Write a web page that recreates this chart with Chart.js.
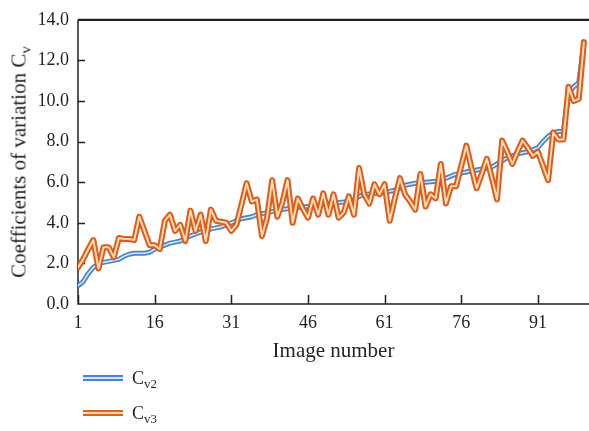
<!DOCTYPE html>
<html>
<head>
<meta charset="utf-8">
<script src="https://cdn.jsdelivr.net/npm/chart.js@4.4.1/dist/chart.umd.min.js"></script>
<style>
html,body{margin:0;padding:0;background:#fff;}
#wrap{position:relative;width:589px;height:431px;overflow:hidden;font-family:"Liberation Serif","Times New Roman",serif;color:#231f20;}
#chart{position:absolute;left:0;top:0;}
#ytitle{position:absolute;left:19px;top:162px;transform:translate(-50%,-50%) rotate(-90deg);white-space:nowrap;font-size:21px;line-height:1;}
.sub{font-size:0.72em;position:relative;top:0.32em;}
.leg{position:absolute;left:83px;height:20px;display:flex;align-items:center;font-size:18px;line-height:1;}
.swatch{width:40px;height:2px;border-top:2px solid;border-bottom:2px solid;margin-right:9px;}
</style>
</head>
<body>
<div id="wrap">
  <canvas id="chart" width="589" height="431"></canvas>
  <div id="ytitle">Coefficients of variation C<span class="sub">v</span></div>
  <div class="leg" style="top:368px;"><div class="swatch" style="border-color:#4a84c2;background:#d3e3f2;"></div><span>C<span class="sub">v2</span></span></div>
  <div class="leg" style="top:403px;"><div class="swatch" style="border-color:#d9651f;background:#f6d8a8;"></div><span>C<span class="sub">v3</span></span></div>
</div>
<script>
const imageNumbers = [
  1,2,3,4,5,6,7,8,9,10,11,12,13,14,15,16,17,18,19,20,
  21,22,23,24,25,26,27,28,29,30,31,32,33,34,35,36,37,38,39,40,
  41,42,43,44,45,46,47,48,49,50,51,52,53,54,55,56,57,58,59,60,
  61,62,63,64,65,66,67,68,69,70,71,72,73,74,75,76,77,78,79,80,
  81,82,83,84,85,86,87,88,89,90,91,92,93,94,95,96,97,98,99,100
];
const cv2 = [
  0.9,1.1,1.5,1.8,2.0,2.05,2.1,2.15,2.2,2.35,
  2.45,2.5,2.5,2.5,2.55,2.7,2.8,2.9,3.0,3.05,
  3.1,3.25,3.35,3.45,3.55,3.6,3.7,3.75,3.8,3.9,
  4.0,4.1,4.2,4.25,4.3,4.4,4.45,4.5,4.55,4.6,
  4.65,4.7,4.72,4.75,4.78,4.8,4.83,4.86,4.9,4.95,
  4.97,5.0,5.02,5.05,5.15,5.3,5.4,5.42,5.44,5.45,
  5.5,5.55,5.6,5.7,5.85,5.9,5.95,5.97,6.0,6.02,
  6.05,6.1,6.2,6.3,6.4,6.45,6.5,6.55,6.6,6.65,
  6.7,6.75,6.9,7.05,7.2,7.3,7.4,7.45,7.5,7.6,
  7.7,8.0,8.25,8.45,8.5,8.5,10.4,10.7,10.9,12.9
];
const cv3 = [
  1.8,2.2,2.7,3.15,1.75,2.8,2.8,2.3,3.25,3.2,
  3.2,3.15,4.3,3.6,2.9,2.9,2.7,4.1,4.4,3.6,
  3.9,3.1,4.6,3.6,4.4,3.1,4.65,4.1,4.05,4.0,
  3.6,3.9,4.9,5.95,5.05,5.15,3.35,4.25,6.1,4.3,
  5.0,6.1,4.0,5.2,4.7,4.25,5.2,4.4,5.45,4.4,
  5.4,4.25,4.5,5.3,4.4,6.7,5.4,4.95,5.9,5.4,
  5.9,4.1,5.2,6.2,5.4,5.05,4.65,6.4,4.8,5.4,
  5.2,6.9,4.95,5.8,5.8,6.8,7.8,6.7,5.7,6.4,
  7.15,6.2,5.15,8.05,7.5,6.9,7.5,8.05,7.7,7.3,
  7.5,6.8,6.1,8.45,8.1,8.1,10.7,10.0,10.1,12.9
];
const xTicks = [1,16,31,46,61,76,91];
const yTicks = [0,2,4,6,8,10,12,14];
const seriesNames = ['Cv2','Cv3'];

const pts = arr => arr.map((v,k) => ({x: imageNumbers[k], y: v}));
const FONT = "'Liberation Serif','Times New Roman',serif";
const INK = '#231f20';

const framePlugin = {
  id: 'frame',
  beforeDatasetsDraw(chart) {
    const {ctx, chartArea: a, scales: {x, y}} = chart;
    ctx.save();
    ctx.strokeStyle = INK;
    ctx.lineWidth = 1.5;
    ctx.beginPath();
    ctx.moveTo(a.left, a.top);
    ctx.lineTo(a.left, a.bottom);
    ctx.lineTo(a.right, a.bottom);
    x.ticks.forEach(t => {
      const px = Math.round(x.getPixelForValue(t.value)) + 0.5;
      ctx.moveTo(px, a.bottom);
      ctx.lineTo(px, a.bottom - 9);
    });
    y.ticks.forEach(t => {
      if (t.value === 0 || t.value === 14) return;
      const py = Math.round(y.getPixelForValue(t.value)) + 0.5;
      ctx.moveTo(a.left, py);
      ctx.lineTo(a.left + 7, py);
    });
    ctx.stroke();
    ctx.lineWidth = 2.2;
    ctx.beginPath();
    ctx.moveTo(a.left, a.top);
    ctx.lineTo(a.right, a.top);
    ctx.stroke();
    ctx.restore();
  }
};

const lineBase = {pointRadius: 0, tension: 0, fill: false, borderJoinStyle: 'round', borderCapStyle: 'round'};

new Chart(document.getElementById('chart'), {
  type: 'line',
  data: {
    datasets: [
      Object.assign({label: seriesNames[1] + ' inner', data: pts(cv3), borderColor: '#f7dcae', borderWidth: 2, order: 1}, lineBase),
      Object.assign({label: seriesNames[1], data: pts(cv3), borderColor: '#df5a1c', borderWidth: 6, order: 2}, lineBase),
      Object.assign({label: seriesNames[0] + ' inner', data: pts(cv2), borderColor: '#d6e6f5', borderWidth: 1.6, order: 3}, lineBase),
      Object.assign({label: seriesNames[0], data: pts(cv2), borderColor: '#4a84c2', borderWidth: 5, order: 4}, lineBase)
    ]
  },
  options: {
    responsive: false,
    animation: false,
    layout: {padding: {top: 16, right: 0, bottom: 0, left: 0}},
    plugins: {legend: {display: false}, tooltip: {enabled: false}},
    scales: {
      x: {
        type: 'linear',
        min: 1, max: 101,
        afterBuildTicks: s => { s.ticks = xTicks.map(v => ({value: v})); },
        afterFit: s => { s.height = 127; },
        grid: {display: false, drawTicks: false},
        border: {display: false},
        ticks: {font: {family: FONT, size: 18}, color: INK, padding: 8, maxRotation: 0, autoSkip: false},
        title: {display: true, text: 'Image number', font: {family: FONT, size: 21}, color: INK, padding: {top: 0, bottom: 67}}
      },
      y: {
        min: 0, max: 14,
        afterBuildTicks: s => { s.ticks = yTicks.map(v => ({value: v})); },
        afterFit: s => { s.width = 78; },
        grid: {display: false, drawTicks: false},
        border: {display: false},
        ticks: {font: {family: FONT, size: 18}, color: INK, padding: 9, callback: v => Number(v).toFixed(1)}
      }
    }
  },
  plugins: [framePlugin]
});
</script>
</body>
</html>
